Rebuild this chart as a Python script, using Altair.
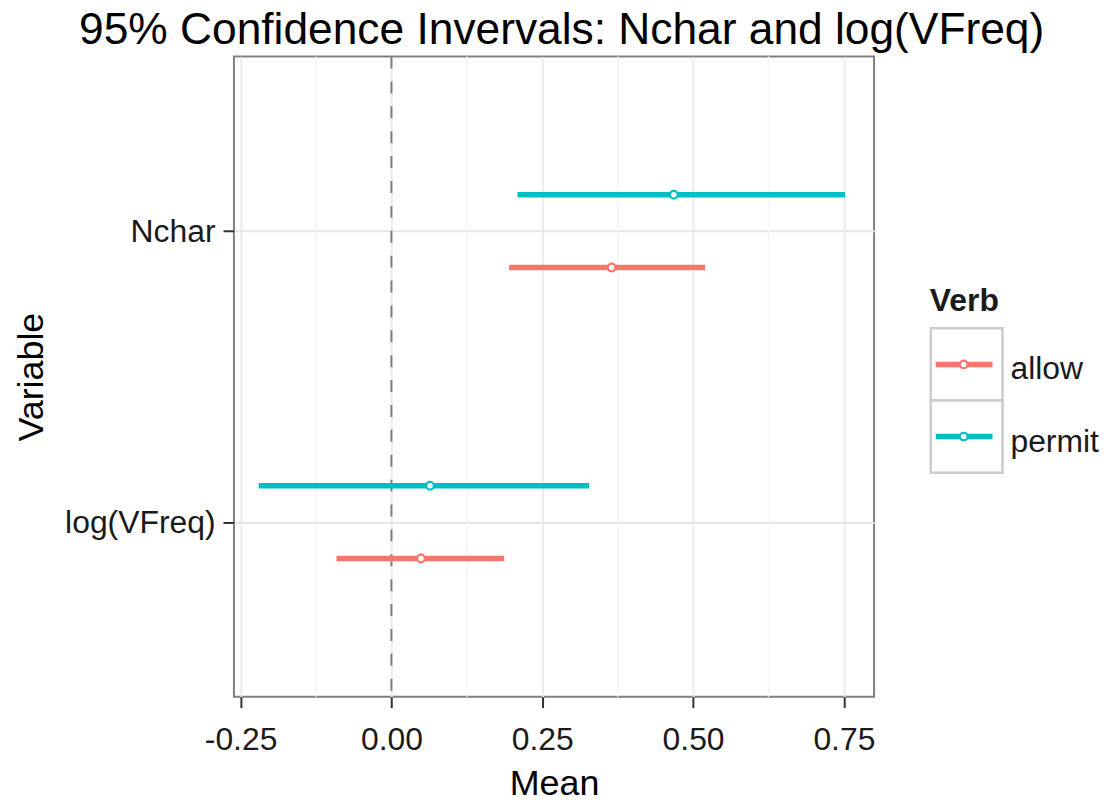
import json
import altair as alt
import pandas as pd

# ---- data ----
variables = ["Nchar", "Nchar", "log(VFreq)", "log(VFreq)"]
verbs = ["allow", "permit", "allow", "permit"]
means = [0.365, 0.468, 0.049, 0.064]
lowers = [0.195, 0.209, -0.091, -0.220]
uppers = [0.520, 0.752, 0.187, 0.328]

var_order = ["Nchar", "log(VFreq)"]
verb_order = ["allow", "permit"]
verb_colors = ["#F8766D", "#00BFC4"]
major_ticks = [-0.25, 0.0, 0.25, 0.5, 0.75]
minor_ticks = [-0.125, 0.125, 0.375, 0.625]
ref_line = [0.0]
title_text = "95% Confidence Invervals: Nchar and log(VFreq)"
legend_title = ["Verb"]

df = pd.DataFrame({"Variable": variables, "Verb": verbs, "Mean": means,
                   "Lower": lowers, "Upper": uppers})

FONT = "Liberation Sans"
TXT = "#1a1a1a"

xscale = alt.Scale(domain=[-0.261, 0.80], nice=False, zero=False)
yscale = alt.Scale(domain=[0.4, 2.6], reverse=True, nice=False, zero=False)
cscale = alt.Scale(domain=verb_order, range=verb_colors)

xaxis = alt.Axis(values=major_ticks, title="Mean",
                 labelExpr="replace(format(datum.value, '.2f'), '\u2212', '-')",
                 grid=True, gridColor="#EBEBEB", gridWidth=2, domain=False,
                 tickColor="#333333", tickWidth=2, tickSize=11, labelPadding=17,
                 labelFontSize=32, labelFont=FONT, labelColor=TXT,
                 titleFontSize=36, titleFont=FONT, titleColor="#000000",
                 titleFontWeight="normal", titlePadding=11)

yaxis = alt.Axis(values=[1, 2], title="Variable",
                 labelExpr=f"{json.dumps(var_order)}[datum.value - 1]",
                 grid=True, gridColor="#E5E5E5", gridWidth=2, domain=False,
                 tickColor="#333333", tickWidth=2, tickSize=11, labelPadding=8,
                 labelFontSize=32, labelFont=FONT, labelColor=TXT,
                 titleFontSize=36, titleFont=FONT, titleColor="#000000",
                 titleFontWeight="normal", titlePadding=14)

minor = alt.Chart(pd.DataFrame({"v": minor_ticks})).mark_rule(
    color="#F5F5F5", strokeWidth=1.5
).encode(x=alt.X("v:Q", scale=xscale, axis=xaxis))

zero = alt.Chart(pd.DataFrame({"v": ref_line})).mark_rule(
    color="#7F7F7F", strokeWidth=2, strokeDash=[12, 13]
).encode(x=alt.X("v:Q", scale=xscale, axis=xaxis))

base = alt.Chart(df).transform_calculate(
    ypos=f"indexof({json.dumps(var_order)}, datum.Variable) + 1 + (datum.Verb == 'permit' ? -0.125 : 0.125)"
)

bars = base.mark_rule(strokeWidth=5.5).encode(
    x=alt.X("Lower:Q", scale=xscale, axis=xaxis),
    x2="Upper:Q",
    y=alt.Y("ypos:Q", scale=yscale, axis=yaxis),
    color=alt.Color("Verb:N", scale=cscale, legend=None),
)

pts = base.mark_point(shape="circle", filled=True, fill="white", size=60,
                      strokeWidth=2.2, opacity=1).encode(
    x=alt.X("Mean:Q", scale=xscale, axis=xaxis),
    y=alt.Y("ypos:Q", scale=yscale, axis=yaxis),
    stroke=alt.Stroke("Verb:N", scale=cscale, legend=None),
)

main = alt.layer(minor, zero, bars, pts).properties(
    width=643, height=643,
    view=alt.ViewBackground(stroke="#7F7F7F", strokeWidth=2),
)

# ---- manual legend (ggplot style keys) ----
leg_df = pd.DataFrame({"Verb": verb_order})
ly = alt.Y("Verb:N", scale=alt.Scale(domain=verb_order, range=[273, 418],
                                      paddingInner=0, paddingOuter=0), axis=None)

boxes = alt.Chart(leg_df).mark_rect(fill="white", stroke="#CCCCCC", strokeWidth=2.5).encode(
    y=ly, x=alt.value(0), x2=alt.value(72))
klines = alt.Chart(leg_df).mark_rule(strokeWidth=5.5).encode(
    y=ly, x=alt.value(5), x2=alt.value(62),
    color=alt.Color("Verb:N", scale=cscale, legend=None))
kpts = alt.Chart(leg_df).mark_point(shape="circle", filled=True, fill="white", size=60,
                                    strokeWidth=2.2, opacity=1).encode(
    y=ly, x=alt.value(33),
    stroke=alt.Stroke("Verb:N", scale=cscale, legend=None))
klabels = alt.Chart(leg_df).mark_text(align="left", baseline="middle", fontSize=32,
                                      font=FONT, color=TXT, dy=5).encode(
    y=ly, x=alt.value(80), text="Verb:N")
ktitle = alt.Chart(pd.DataFrame({"t": legend_title})).mark_text(
    align="left", baseline="alphabetic", fontSize=32, font=FONT,
    fontWeight="bold", color=TXT).encode(
    x=alt.value(-1), y=alt.value(256), text="t:N")

legend = alt.layer(boxes, klines, kpts, klabels, ktitle).properties(
    width=180, height=643,
    view=alt.ViewBackground(stroke="transparent"),
)

chart = alt.hconcat(main, legend, spacing=53).properties(
    title=alt.TitleParams(title_text, fontSize=44.5, font=FONT, fontWeight="normal",
                          color="#000000", anchor="middle", offset=1),
    padding={"left": 12, "top": 6, "right": 0, "bottom": 0},
    background="white",
)

chart.save("out.html", embed_options={"renderer": "svg", "actions": False})
